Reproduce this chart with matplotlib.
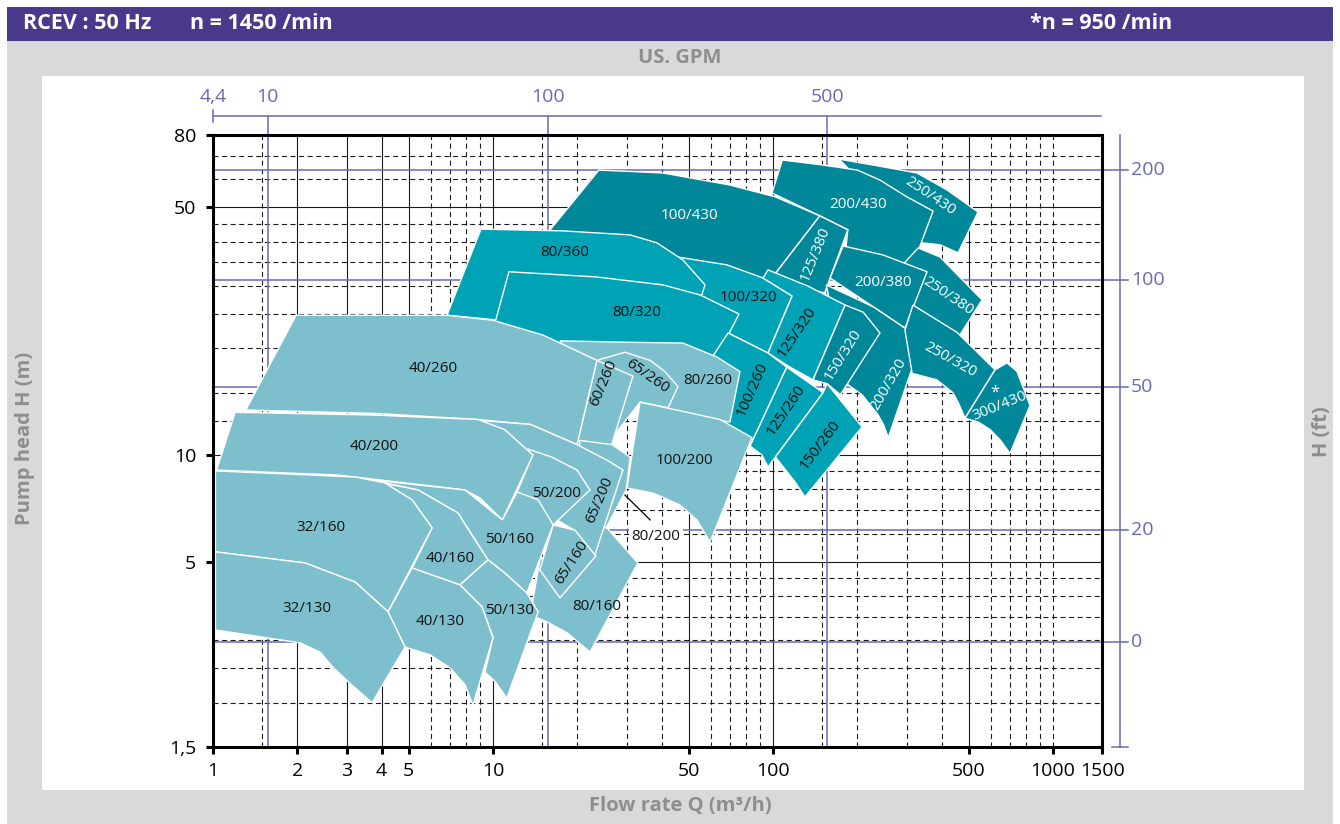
import numpy as np
import matplotlib.pyplot as plt
from matplotlib.patches import Polygon, Rectangle
from matplotlib.ticker import NullLocator
import matplotlib.transforms as mtransforms

plt.rcParams['font.family'] = ['Open Sans', 'DejaVu Sans']

# axes values
Q_TICKS = [1, 2, 3, 4, 5, 10, 50, 100, 500, 1000, 1500]
Q_LABELS = ['1', '2', '3', '4', '5', '10', '50', '100', '500', '1000', '1500']
H_TICKS = [1.5, 5, 10, 50, 80]
H_LABELS = ['1,5', '5', '10', '50', '80']
Q_SOLID = [2, 3, 4, 5, 10, 50, 100, 500]
Q_DASHED = [1.5, 6, 7, 8, 9, 15, 20, 30, 40, 60, 70, 80, 90, 150, 200, 300, 400,
            600, 700, 800, 900, 1000]
H_SOLID = [5, 10, 50]
H_DASHED = [2, 2.5, 3, 3.5, 4, 4.5, 6, 7, 8, 9, 12.5, 15, 20, 25, 30, 35, 40, 45, 60, 70]

# secondary scales (US GPM on top, H in ft on the right), as drawn
GPM_LABELS = ['4,4', '10', '100', '500']
GPM_AT_Q = [1.0, 1.57, 15.7, 156]
FT_LABELS = ['200', '100', '50', '20', '0']
FT_AT_H = [63.7, 31.2, 15.6, 6.14, 2.97]

# pump fields, outline points (Q m3/h, H m)
P_250_430 = [(172, 68.4), (228, 65.8), (327, 62.5), (418, 56.0), (540, 48.5), (458, 37.2),
             (395, 39.2), (340, 39.7), (308, 43.2), (262, 52.4), (188, 63.7)]
P_200_430 = [(99.2, 54.9), (108, 68.0), (151, 65.8), (200, 63.7), (241, 59.7), (301, 53.5),
             (373, 48.8), (316, 34.4), (241, 35.0), (181, 36.7), (185, 43.2), (147, 47.3)]
P_100_430 = [(16.0, 43.2), (23.9, 63.7), (40.5, 62.5), (70.2, 57.8), (102, 53.5), (147, 47.3),
             (103, 32.9), (89.9, 29.2), (54.9, 28.3), (33.5, 37.9), (17.4, 39.2)]
P_250_380 = [(330, 38.4), (395, 36.2), (558, 27.4), (458, 21.4), (316, 26.5), (284, 27.4),
             (296, 35.0)]
P_125_380 = [(147, 47.3), (185, 43.2), (153, 28.7), (125, 29.6), (99.2, 31.6)]
P_200_380 = [(178, 38.9), (247, 36.7), (355, 32.9), (296, 22.8), (228, 26.2), (160, 31.6)]
P_200_320 = [(155, 30.2), (228, 26.2), (296, 22.8), (335, 20.4), (258, 11.2), (248, 12.2),
             (237, 13.0), (208, 14.8), (185, 15.8), (167, 22.5)]
P_250_320 = [(316, 26.5), (454, 22.2), (621, 17.4), (485, 12.7), (460, 14.0), (439, 15.0),
             (385, 16.3), (314, 17.0), (296, 22.5)]
P_300_430 = [(621, 17.4), (685, 18.2), (744, 17.2), (828, 13.8), (702, 10.1), (650, 11.0),
             (596, 11.8), (540, 12.4), (485, 12.7)]
P_100_320 = [(42.9, 36.5), (68.5, 34.4), (92.1, 31.6), (117, 28.1), (96.0, 19.4), (69.1, 22.1),
             (54.9, 22.5), (42.9, 27.4)]
P_125_320 = [(96.0, 33.3), (133, 30.0), (181, 26.5), (139, 16.3), (115, 17.7), (96.0, 19.4),
             (117, 28.1), (92.1, 31.6)]
P_150_320 = [(181, 26.5), (210, 25.3), (241, 22.1), (174, 14.8), (156, 15.9), (139, 16.3)]
P_80_360 = [(6.85, 24.8), (9.06, 43.4), (17.8, 42.9), (30.9, 41.8), (38.5, 39.7), (47.7, 35.5),
            (57.2, 30.2), (54.9, 27.4), (24.1, 27.4), (10.6, 24.0)]
P_80_320 = [(11.4, 32.9), (23.5, 31.8), (40.5, 30.2), (54.9, 28.3), (75.6, 25.0), (63.1, 18.9),
            (47.7, 19.8), (24.1, 19.2), (10.0, 22.5)]
P_100_260 = [(69.1, 22.1), (96.0, 19.4), (112, 17.7), (82.8, 10.6), (64.7, 12.2), (59.6, 18.5)]
P_125_260 = [(112, 17.7), (151, 15.0), (102, 9.87), (96.0, 9.25), (91.3, 10.0), (82.8, 10.6)]
P_150_260 = [(151, 15.0), (156, 15.9), (208, 12.0), (130, 7.61), (120, 8.39), (111, 9.07),
             (102, 9.87)]
P_80_260 = [(17.35, 21.0), (30.9, 20.8), (47.7, 20.7), (63.1, 18.9), (76.2, 17.2), (70.2, 12.4),
            (54.9, 12.7), (33.5, 14.1), (24.1, 14.3)]
P_65_260 = [(23.5, 18.5), (29.6, 19.5), (36.4, 18.5), (41.1, 17.2), (45.8, 15.6), (42.2, 13.6),
            (33.5, 14.1), (26.2, 11.0)]
P_60_260 = [(23.5, 18.5), (31.6, 16.7), (25.5, 9.68), (19.95, 10.7)]
P_40_260 = [(1.31, 13.4), (1.98, 24.8), (3.85, 24.8), (6.85, 24.8), (10.0, 24.0), (15.1, 21.8),
            (23.5, 18.5), (19.95, 10.7), (13.6, 12.2), (8.77, 12.6), (3.85, 13.1)]
P_100_200 = [(33.5, 14.1), (64.7, 12.6), (84.1, 11.2), (59.6, 5.68), (53.5, 6.56), (46.5, 7.23),
             (37.3, 7.81), (30.1, 8.07)]
P_80_200 = [(20.4, 11.0), (26.6, 10.7), (30.9, 9.87), (29.9, 7.97), (25.1, 6.14), (20.4, 6.56)]
P_80_160 = [(14.7, 5.06), (19.6, 6.14), (25.5, 6.23), (32.9, 4.96), (22.2, 2.78), (18.4, 3.15),
            (15.6, 3.38), (13.6, 3.54)]
P_65_200 = [(9.21, 12.5), (13.6, 12.2), (19.95, 10.7), (25.5, 9.68), (29.1, 9.07), (23.1, 5.22),
            (19.5, 6.14), (14.7, 7.0), (13.9, 10.0)]
P_65_160 = [(16.4, 6.35), (19.6, 6.14), (23.3, 5.19), (17.35, 3.95), (14.7, 4.74)]
P_50_200 = [(13.3, 10.4), (16.2, 9.87), (19.95, 9.07), (22.2, 7.97), (16.4, 6.35), (12.2, 7.86),
            (13.7, 9.81)]
P_40_200 = [(1.03, 9.07), (1.20, 13.2), (3.70, 12.97), (8.84, 12.6), (11.0, 11.8), (13.9, 10.0),
            (10.8, 6.56), (8.99, 7.56), (7.94, 7.97), (2.80, 8.78)]
P_50_160 = [(3.70, 8.50), (7.94, 7.97), (10.8, 6.56), (12.2, 7.86), (14.5, 7.47), (16.4, 6.35),
            (13.2, 4.08), (11.0, 4.65), (9.60, 5.06), (7.50, 6.86), (5.40, 7.97)]
P_40_160 = [(3.30, 8.61), (5.40, 7.97), (7.50, 6.86), (8.62, 5.76), (9.60, 5.06), (7.62, 4.30),
            (5.14, 4.80), (6.06, 6.23), (5.14, 7.47), (4.11, 8.34)]
P_32_160 = [(1.02, 9.02), (3.22, 8.67), (4.11, 8.34), (5.14, 7.47), (6.06, 6.23), (4.22, 3.61),
            (3.22, 4.38), (2.13, 4.96), (1.02, 5.33)]
P_50_130 = [(7.62, 4.30), (9.60, 5.06), (11.0, 4.65), (13.2, 4.08), (14.5, 3.61), (11.2, 2.06),
            (10.2, 2.29), (9.36, 2.44), (10.0, 3.05), (9.13, 3.73)]
P_40_130 = [(5.14, 4.80), (7.62, 4.30), (9.13, 3.73), (10.0, 3.05), (8.48, 1.97), (7.94, 2.25),
            (7.02, 2.51), (5.96, 2.73), (4.85, 2.87), (4.22, 3.61)]
P_32_130 = [(1.02, 5.33), (2.13, 4.96), (3.22, 4.38), (4.22, 3.61), (4.85, 2.87), (3.70, 2.00),
            (3.08, 2.27), (2.68, 2.52), (2.41, 2.78), (2.05, 2.95), (1.02, 3.21)]

# label anchor (Q, H) and text angle per field
LABEL_Q = {'250/430': 364, '200/430': 201, '100/430': 50.5, '250/380': 422, '125/380': 141,
           '200/380': 247, '200/320': 258, '250/320': 429, '300/430': 647, '100/320': 81.4,
           '125/320': 122, '150/320': 178, '80/360': 18.1, '80/320': 32.7, '100/260': 84.1,
           '125/260': 111, '150/260': 147, '80/260': 58.6, '65/260': 35.5, '60/260': 24.9,
           '40/260': 6.11, '100/200': 48.1, '80/200': 38.2, '80/160': 23.5, '65/200': 24.1,
           '65/160': 19.1, '50/200': 16.9, '40/200': 3.76, '50/160': 11.5, '40/160': 7.02,
           '32/160': 2.43, '50/130': 11.5, '40/130': 6.47, '32/130': 2.17}
LABEL_H = {'250/430': 53.8, '200/430': 50.8, '100/430': 47.3, '250/380': 28.1, '125/380': 36.9,
           '200/380': 30.6, '200/320': 15.8, '250/320': 18.5, '300/430': 13.75, '100/320': 27.9,
           '125/320': 22.2, '150/320': 19.2, '80/360': 37.4, '80/320': 25.3, '100/260': 15.3,
           '125/260': 13.4, '150/260': 10.7, '80/260': 16.2, '65/260': 16.7, '60/260': 16.0,
           '40/260': 17.6, '100/200': 9.62, '80/200': 5.88, '80/160': 3.73, '65/200': 7.47,
           '65/160': 4.96, '50/200': 7.81, '40/200': 10.6, '50/160': 5.76, '40/160': 5.12,
           '32/160': 6.23, '50/130': 3.65, '40/130': 3.38, '32/130': 3.70}
LABEL_ROT = {'250/430': -34, '250/380': -34, '250/320': -29, '300/430': 22, '125/380': 68,
             '150/320': 58, '200/320': 60, '125/320': 56, '100/260': 66, '125/260': 56,
             '150/260': 53, '60/260': 67, '65/260': -35, '65/200': 67, '65/160': 57}
OUTSIDE_LABELS = ['80/200']
STAR_Q, STAR_H = 621, 15.0
LEADER_Q = [29.6, 36.4]
LEADER_H = [7.71, 6.56]

DARK, MEDIUM, LIGHT = '#00889a', '#00a3b6', '#7ebfce'
PURPLE = '#6a6ab4'
GRAY_TXT = '#8e8e8e'

# drawing order, back to front
FIELDS = [
    ('250/430', P_250_430, DARK), ('200/430', P_200_430, DARK), ('100/430', P_100_430, DARK),
    ('250/380', P_250_380, DARK), ('125/380', P_125_380, DARK), ('200/380', P_200_380, DARK),
    ('200/320', P_200_320, DARK), ('250/320', P_250_320, DARK), ('300/430', P_300_430, DARK),
    ('100/320', P_100_320, MEDIUM), ('125/320', P_125_320, MEDIUM), ('150/320', P_150_320, DARK),
    ('80/360', P_80_360, MEDIUM), ('80/320', P_80_320, MEDIUM), ('100/260', P_100_260, MEDIUM),
    ('125/260', P_125_260, MEDIUM), ('150/260', P_150_260, MEDIUM),
    ('80/260', P_80_260, LIGHT), ('65/260', P_65_260, LIGHT), ('60/260', P_60_260, LIGHT),
    ('40/260', P_40_260, LIGHT), ('100/200', P_100_200, LIGHT), ('80/200', P_80_200, LIGHT),
    ('80/160', P_80_160, LIGHT), ('65/200', P_65_200, LIGHT), ('65/160', P_65_160, LIGHT),
    ('50/200', P_50_200, LIGHT), ('40/200', P_40_200, LIGHT), ('50/160', P_50_160, LIGHT),
    ('40/160', P_40_160, LIGHT), ('32/160', P_32_160, LIGHT), ('50/130', P_50_130, LIGHT),
    ('40/130', P_40_130, LIGHT), ('32/130', P_32_130, LIGHT),
]

fig = plt.figure(figsize=(13.4, 8.24), dpi=100)
fig.patch.set_facecolor('white')

# frame: gray background, purple header, white panel
fig.add_artist(Rectangle((0.0052, 0.0), 0.9896, 0.9502, transform=fig.transFigure,
                         fc='#d9d9d9', ec='none', zorder=-5))
fig.add_artist(Rectangle((0.0052, 0.9502), 0.9896, 0.0413, transform=fig.transFigure,
                         fc='#4a388a', ec='none', zorder=-5))
fig.add_artist(Rectangle((0.0313, 0.0413), 0.9418, 0.8665, transform=fig.transFigure,
                         fc='white', ec='none', zorder=-4))

fig.text(0.0172, 0.9709, 'RCEV : 50 Hz', color='white', fontsize=15.5, fontweight='bold',
         va='center', ha='left')
fig.text(0.1418, 0.9709, 'n = 1450 /min', color='white', fontsize=15.5, fontweight='bold',
         va='center', ha='left')
fig.text(0.8746, 0.9709, '*n = 950 /min', color='white', fontsize=15.5, fontweight='bold',
         va='center', ha='right')
fig.text(0.5075, 0.9296, 'US. GPM', color=GRAY_TXT, fontsize=14.5, fontweight='bold',
         ha='center', va='center')
fig.text(0.5075, 0.0218, 'Flow rate Q (m³/h)', color=GRAY_TXT, fontsize=14.5, fontweight='bold',
         ha='center', va='center')
fig.text(0.0185, 0.468, 'Pump head H (m)', color=GRAY_TXT, fontsize=14.5, fontweight='bold',
         ha='center', va='center', rotation=90)
fig.text(0.9866, 0.476, 'H (ft)', color=GRAY_TXT, fontsize=14.5, fontweight='bold',
         ha='center', va='center', rotation=90)

ax = fig.add_axes([213 / 1340, 1 - 747 / 824, 889.3 / 1340, 612 / 824])
ax.set_xscale('log')
ax.set_yscale('log')
ax.set_xlim(1, 1500)
ax.set_ylim(1.5, 80)
ax.set_facecolor('white')

ax.set_xticks(Q_TICKS)
ax.set_xticklabels(Q_LABELS)
ax.set_yticks(H_TICKS)
ax.set_yticklabels(H_LABELS)
ax.xaxis.set_minor_locator(NullLocator())
ax.yaxis.set_minor_locator(NullLocator())
ax.tick_params(axis='both', direction='out', length=5, width=2.2, labelsize=14, colors='black')
ax.tick_params(axis='x', pad=6)
ax.tick_params(axis='y', pad=7)
for sp in ax.spines.values():
    sp.set_linewidth(2.2)
    sp.set_zorder(4)

# grid
for q in Q_SOLID:
    ax.axvline(q, color='#1a1a1a', lw=0.8, zorder=1)
for q in Q_DASHED:
    ax.axvline(q, color='#1a1a1a', lw=0.8, ls=(0, (4.5, 3.2)), zorder=1)
for h in H_SOLID:
    ax.axhline(h, color='#1a1a1a', lw=0.8, zorder=1)
for h in H_DASHED:
    ax.axhline(h, color='#1a1a1a', lw=0.8, ls=(0, (4.5, 3.2)), zorder=1)

# US GPM scale on top
tr_xd = mtransforms.blended_transform_factory(ax.transData, ax.transAxes)
ax.plot([0, 0.9985], [1.031, 1.031], transform=ax.transAxes, color=PURPLE, lw=1.1,
        clip_on=False, zorder=1.5)
ax.plot([0, 0], [1.021, 1.041], transform=ax.transAxes, color=PURPLE, lw=1.1, clip_on=False)
for q, lab in zip(GPM_AT_Q, GPM_LABELS):
    if q > 1:
        ax.plot([q, q], [0, 1.031], transform=tr_xd, color=PURPLE, lw=1.1, clip_on=False,
                zorder=1.5)
    ax.text(q, 1.062, lab, transform=tr_xd, color=PURPLE, fontsize=14, ha='center', va='center')

# H in ft on the right
tr_ad = mtransforms.blended_transform_factory(ax.transAxes, ax.transData)
ax.plot([1.0199, 1.0199], [0, 1], transform=ax.transAxes, color=PURPLE, lw=1.1, clip_on=False)
ax.plot([1.011, 1.029], [0, 0], transform=ax.transAxes, color=PURPLE, lw=1.1, clip_on=False)
for h, lab in zip(FT_AT_H, FT_LABELS):
    ax.plot([0, 1.029], [h, h], transform=tr_ad, color=PURPLE, lw=1.1, clip_on=False,
            zorder=1.5)
    ax.text(1.032, h, lab, transform=tr_ad, color=PURPLE, fontsize=14, ha='left', va='center')

# pump fields
for i, (name, pts, col) in enumerate(FIELDS):
    ax.add_patch(Polygon(np.array(pts), closed=True, fc=col, ec='white', lw=1.0,
                         joinstyle='miter', zorder=2 + i * 0.01))
    txt_col = 'white' if col == DARK else '#111111'
    box = None
    if name in OUTSIDE_LABELS:
        box = dict(boxstyle='square,pad=0.15', fc='white', ec='none')
    ax.text(LABEL_Q[name], LABEL_H[name], name, rotation=LABEL_ROT.get(name, 0),
            rotation_mode='anchor', ha='center', va='center', fontsize=11,
            color=txt_col, zorder=3, bbox=box)

ax.text(STAR_Q, STAR_H, '*', ha='center', va='center', fontsize=12, color='white', zorder=3)
ax.plot(LEADER_Q, LEADER_H, color='black', lw=0.9, zorder=3)

fig.savefig('out.png', dpi=100)
